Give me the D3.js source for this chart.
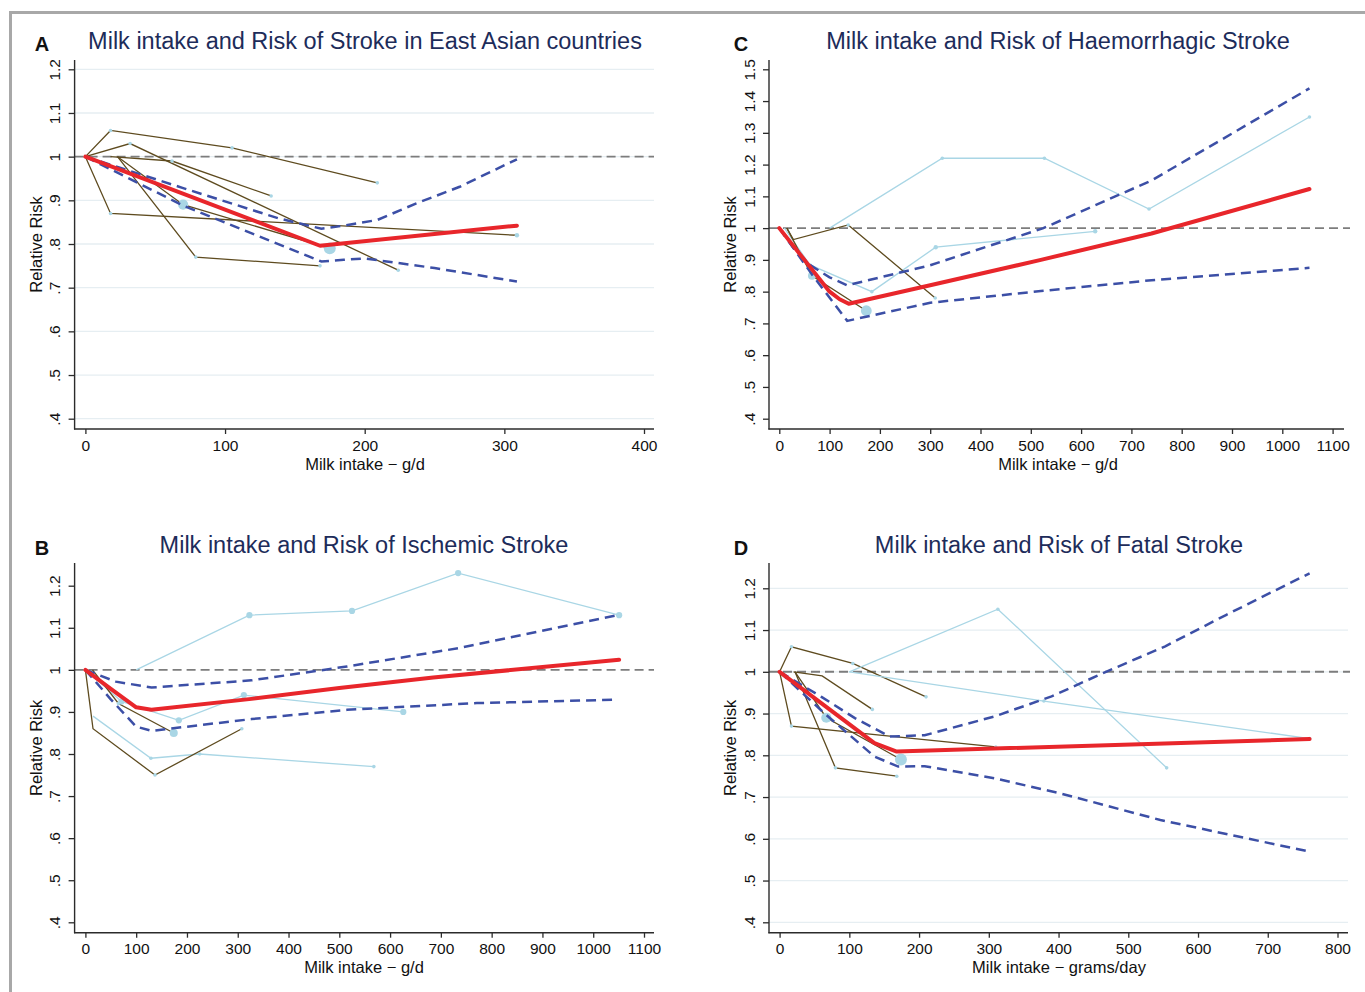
<!DOCTYPE html>
<html>
<head>
<meta charset="utf-8">
<script src="https://cdn.jsdelivr.net/npm/d3@7"></script>
<style>
  html, body { margin: 0; padding: 0; background: #fff; }
  svg { display: block; font-family: "Liberation Sans", Arial, Helvetica, sans-serif; }
</style>
</head>
<body>
<svg id="fig" width="1365" height="992"></svg>
<script>
// ---------------- data ----------------
// Each curve is a list of [milk intake (g/d), relative risk] pairs.
// Study records: kind ("brown" / "light"), dose, rr, and marker weight.

// Panel A: East Asian countries
const titleA = "Milk intake and Risk of Stroke in East Asian countries";
const xTicksA = [0, 100, 200, 300, 400];
const yTicksA = [0.4, 0.5, 0.6, 0.7, 0.8, 0.9, 1.0, 1.1, 1.2];
const pooledA = [[0, 1], [168, 0.796], [309, 0.842]];
const upperA = [[0, 1], [70, 0.928], [138, 0.859], [169, 0.835], [185, 0.842], [209, 0.855], [237, 0.893], [268, 0.931], [309, 0.994]];
const lowerA = [[0, 1], [70, 0.888], [120, 0.823], [169, 0.76], [185, 0.764], [200, 0.767], [250, 0.745], [309, 0.714]];
const studiesA = [
  { kind: "brown", dose: [0, 18, 105, 209], rr: [1, 1.06, 1.02, 0.94], w: [0, 1, 1, 1] },
  { kind: "brown", dose: [0, 32, 224], rr: [1, 1.03, 0.74], w: [0, 1, 1] },
  { kind: "brown", dose: [18, 62, 133], rr: [1, 0.99, 0.91], w: [0, 1, 1] },
  { kind: "brown", dose: [0, 18, 309], rr: [1, 0.87, 0.82], w: [0, 1, 1.5] },
  { kind: "brown", dose: [23, 79, 168], rr: [1, 0.77, 0.75], w: [0, 1, 1] },
  { kind: "brown", dose: [23, 70, 175], rr: [1, 0.89, 0.79], w: [0, 8, 11] }
];

// Panel B: ischemic stroke
const titleB = "Milk intake and Risk of Ischemic Stroke";
const xTicksB = [0, 100, 200, 300, 400, 500, 600, 700, 800, 900, 1000, 1100];
const yTicksB = [0.4, 0.5, 0.6, 0.7, 0.8, 0.9, 1.0, 1.1, 1.2];
const pooledB = [[0, 1], [50, 0.955], [100, 0.911], [130, 0.905], [327, 0.931], [500, 0.957], [685, 0.982], [1051, 1.024]];
const upperB = [[0, 1], [60, 0.972], [130, 0.958], [327, 0.975], [515, 1.008], [737, 1.052], [1051, 1.131]];
const lowerB = [[0, 1], [50, 0.93], [100, 0.865], [130, 0.855], [327, 0.883], [515, 0.905], [771, 0.921], [1045, 0.929]];
const studiesB = [
  { kind: "light", dose: [100, 323, 525, 734, 1051], rr: [1, 1.13, 1.14, 1.23, 1.13], w: [0, 3, 3, 3, 3] },
  { kind: "light", dose: [0, 71, 184, 312, 626], rr: [1, 0.925, 0.88, 0.94, 0.90], w: [0, 3, 3, 3, 3] },
  { kind: "light", dose: [15, 129, 225, 568], rr: [0.89, 0.79, 0.80, 0.77], w: [0, 1, 1, 1] },
  { kind: "brown", dose: [0, 15, 137, 308], rr: [1, 0.86, 0.75, 0.86], w: [0, 0, 1, 1] },
  { kind: "brown", dose: [14, 65, 174], rr: [1, 0.92, 0.85], w: [0, 1, 5] }
];

// Panel C: haemorrhagic stroke
const titleC = "Milk intake and Risk of Haemorrhagic Stroke";
const xTicksC = [0, 100, 200, 300, 400, 500, 600, 700, 800, 900, 1000, 1100];
const yTicksC = [0.4, 0.5, 0.6, 0.7, 0.8, 0.9, 1.0, 1.1, 1.2, 1.3, 1.4, 1.5];
const pooledC = [[0, 1], [50, 0.9], [100, 0.8], [120, 0.776], [138, 0.762], [300, 0.82], [520, 0.9], [740, 0.983], [1054, 1.123]];
const upperC = [[0, 1], [27, 0.94], [60, 0.885], [100, 0.845], [135, 0.82], [300, 0.883], [525, 1.0], [740, 1.15], [1054, 1.44]];
const lowerC = [[0, 1], [67, 0.85], [135, 0.708], [300, 0.765], [520, 0.802], [740, 0.836], [1054, 0.875]];
const studiesC = [
  { kind: "light", dose: [100, 324, 527, 735, 1054], rr: [1, 1.22, 1.22, 1.06, 1.35], w: [0, 1, 1, 1, 1] },
  { kind: "light", dose: [10, 61, 184, 311, 628], rr: [1, 0.884, 0.80, 0.94, 0.99], w: [0, 1, 1, 1.5, 1.5] },
  { kind: "brown", dose: [15, 28, 137, 310], rr: [1, 0.964, 1.01, 0.78], w: [0, 0, 1, 1] },
  { kind: "brown", dose: [15, 65, 173], rr: [1, 0.85, 0.74], w: [0, 5, 9] }
];

// Panel D: fatal stroke
const titleD = "Milk intake and Risk of Fatal Stroke";
const xTicksD = [0, 100, 200, 300, 400, 500, 600, 700, 800];
const yTicksD = [0.4, 0.5, 0.6, 0.7, 0.8, 0.9, 1.0, 1.1, 1.2];
const pooledD = [[0, 1], [136, 0.829], [168, 0.809], [760, 0.839]];
const upperD = [[0, 1], [60, 0.94], [108, 0.889], [158, 0.845], [208, 0.848], [308, 0.893], [390, 0.941], [468, 1.0], [553, 1.061], [640, 1.136], [760, 1.236]];
const lowerD = [[0, 1], [64, 0.901], [136, 0.797], [170, 0.773], [208, 0.774], [308, 0.745], [402, 0.709], [546, 0.645], [758, 0.57]];
const studiesD = [
  { kind: "brown", dose: [0, 17, 105, 210], rr: [1, 1.06, 1.02, 0.94], w: [0, 1, 1, 1] },
  { kind: "brown", dose: [20, 61, 133], rr: [1, 0.99, 0.91], w: [0, 0, 1] },
  { kind: "brown", dose: [0, 17, 310], rr: [1, 0.87, 0.82], w: [0, 1, 1] },
  { kind: "brown", dose: [22, 80, 168], rr: [1, 0.77, 0.75], w: [0, 1, 1] },
  { kind: "brown", dose: [22, 67, 174], rr: [1, 0.89, 0.79], w: [0, 8, 11] },
  { kind: "light", dose: [100, 313, 555], rr: [1, 1.15, 0.77], w: [0, 1, 1] },
  { kind: "light", dose: [100, 379, 760], rr: [1, 0.93, 0.84], w: [0, 1, 1] }
];

// ---------------- drawing ----------------
const svg = d3.select("#fig");

// outer frame of the figure
svg.append("rect")
  .attr("x", 10.5).attr("y", 12.5)
  .attr("width", 1400).attr("height", 1000)
  .attr("fill", "none").attr("stroke", "#a8a8a8").attr("stroke-width", 3);

const COL = {
  brown: "#5e4b1f",
  light: "#a9d6e5",
  marker: "#a9d6e5",
  red: "#e8262b",
  ci: "#3c4fa6",
  ref: "#7d7d7d",
  grid: "#e6eef2",
  axis: "#2b2b2b",
  title: "#1d2c5a"
};

const radius = d3.scaleSqrt().domain([0, 1]).range([0, 1.8]);

// y labels in the ".4 … 1 … 1.2" style
const fmtRR = v => {
  const s = d3.format(".1f")(v);
  if (s.endsWith(".0")) return s.slice(0, -2);
  return s.startsWith("0.") ? s.slice(1) : s;
};
const fmtDose = d3.format("d");

function drawPanel(p) {
  const g = svg.append("g");
  const x = d3.scaleLinear().domain([p.xTicks[0], p.xTicks[p.xTicks.length - 1]]).range(p.xRange);
  const y = d3.scaleLinear().domain([p.yTicks[0], p.yTicks[p.yTicks.length - 1]]).range(p.yRange);
  const line = d3.line().x(d => x(d[0])).y(d => y(d[1]));

  // horizontal gridlines
  if (p.grid) {
    g.append("g").selectAll("line").data(p.yTicks).join("line")
      .attr("x1", p.left).attr("x2", p.right)
      .attr("y1", d => y(d)).attr("y2", d => y(d))
      .attr("stroke", COL.grid).attr("stroke-width", 1.3);
  }

  // reference line at RR = 1
  g.append("line")
    .attr("x1", p.left).attr("x2", p.refRight)
    .attr("y1", y(1)).attr("y2", y(1))
    .attr("stroke", COL.ref).attr("stroke-width", 1.9)
    .attr("stroke-dasharray", "9,5");

  // individual study curves
  g.append("g").selectAll("path").data(p.studies).join("path")
    .attr("d", s => line(s.dose.map((d, i) => [d, s.rr[i]])))
    .attr("fill", "none")
    .attr("stroke", s => COL[s.kind])
    .attr("stroke-width", 1.3);

  // study points, sized by weight
  const pts = p.studies.flatMap(s => s.dose.map((d, i) => ({ d, rr: s.rr[i], w: s.w[i] }))).filter(q => q.w > 0);
  g.append("g").selectAll("circle").data(pts).join("circle")
    .attr("cx", q => x(q.d)).attr("cy", q => y(q.rr))
    .attr("r", q => radius(q.w))
    .attr("fill", COL.marker);

  // confidence limits
  [p.upper, p.lower].forEach(ci => {
    g.append("path").attr("d", line(ci))
      .attr("fill", "none").attr("stroke", COL.ci)
      .attr("stroke-width", 2.5).attr("stroke-dasharray", "10,6");
  });

  // pooled dose-response
  g.append("path").attr("d", line(p.pooled))
    .attr("fill", "none").attr("stroke", COL.red)
    .attr("stroke-width", 4).attr("stroke-linejoin", "round").attr("stroke-linecap", "round");

  // axes
  const ax = g.append("g").attr("transform", `translate(0,${p.bottom})`)
    .call(d3.axisBottom(x).tickValues(p.xTicks).tickFormat(fmtDose).tickSize(5).tickPadding(5.5).tickSizeOuter(0));
  ax.select(".domain").remove();
  ax.selectAll("line").attr("stroke", COL.axis).attr("stroke-width", 1.3);
  ax.selectAll("text").attr("font-size", 15.5).attr("fill", "#111").attr("font-family", null);

  const ay = g.append("g").attr("transform", `translate(${p.left},0)`)
    .call(d3.axisLeft(y).tickValues(p.yTicks).tickSize(6).tickFormat(fmtRR).tickSizeOuter(0));
  ay.select(".domain").remove();
  ay.selectAll("line").attr("stroke", COL.axis).attr("stroke-width", 1.3);
  ay.selectAll("text")
    .attr("x", null).attr("dy", null)
    .attr("transform", "translate(-14.5,0) rotate(-90)")
    .attr("text-anchor", "middle")
    .attr("font-size", 15.5).attr("fill", "#111").attr("font-family", null);

  g.append("line").attr("x1", p.left).attr("x2", p.left).attr("y1", p.top).attr("y2", p.bottom + 0.6)
    .attr("stroke", COL.axis).attr("stroke-width", 1.4);
  g.append("line").attr("x1", p.left - 0.6).attr("x2", p.right).attr("y1", p.bottom).attr("y2", p.bottom)
    .attr("stroke", COL.axis).attr("stroke-width", 1.4);

  // axis titles
  g.append("text")
    .attr("transform", `translate(${p.left - 32.6},${(p.top + p.bottom) / 2}) rotate(-90)`)
    .attr("text-anchor", "middle").attr("font-size", 16.5).attr("fill", "#111")
    .text("Relative Risk");
  g.append("text")
    .attr("x", p.titleX).attr("y", p.bottom + 40.5)
    .attr("text-anchor", "middle").attr("font-size", 16.5).attr("fill", "#111")
    .text(p.xTitle);

  // panel title and letter
  g.append("text")
    .attr("x", p.titleX).attr("y", p.titleY)
    .attr("text-anchor", "middle").attr("font-size", 23.5).attr("fill", COL.title)
    .text(p.title);
  g.append("text")
    .attr("x", p.letterX).attr("y", p.titleY + 2)
    .attr("text-anchor", "middle").attr("font-size", 20).attr("font-weight", "bold").attr("fill", "#111")
    .text(p.letter);
}

drawPanel({
  letter: "A", title: titleA, xTitle: "Milk intake \u2212 g/d",
  xTicks: xTicksA, yTicks: yTicksA, pooled: pooledA, upper: upperA, lower: lowerA, studies: studiesA,
  left: 74.6, right: 654, refRight: 654, top: 60, bottom: 429,
  xRange: [85.4, 644], yRange: [418.7, 69.3], grid: true,
  titleX: 365, titleY: 48.5, letterX: 42
});
drawPanel({
  letter: "C", title: titleC, xTitle: "Milk intake \u2212 g/d",
  xTicks: xTicksC, yTicks: yTicksC, pooled: pooledC, upper: upperC, lower: lowerC, studies: studiesC,
  left: 769, right: 1344, refRight: 1350, top: 60, bottom: 429,
  xRange: [779.3, 1332.6], yRange: [418.7, 69.3], grid: false,
  titleX: 1058, titleY: 48.5, letterX: 741
});
drawPanel({
  letter: "B", title: titleB, xTitle: "Milk intake \u2212 g/d",
  xTicks: xTicksB, yTicks: yTicksB, pooled: pooledB, upper: upperB, lower: lowerB, studies: studiesB,
  left: 74.6, right: 654, refRight: 654, top: 563, bottom: 932.7,
  xRange: [85.4, 644], yRange: [922.3, 585.7], grid: false,
  titleX: 364, titleY: 553, letterX: 42
});
drawPanel({
  letter: "D", title: titleD, xTitle: "Milk intake \u2212 grams/day",
  xTicks: xTicksD, yTicks: yTicksD, pooled: pooledD, upper: upperD, lower: lowerD, studies: studiesD,
  left: 769, right: 1348, refRight: 1350, top: 563, bottom: 932.7,
  xRange: [779.6, 1337.5], yRange: [922.3, 588.3], grid: true,
  titleX: 1059, titleY: 553, letterX: 741
});
</script>
</body>
</html>
